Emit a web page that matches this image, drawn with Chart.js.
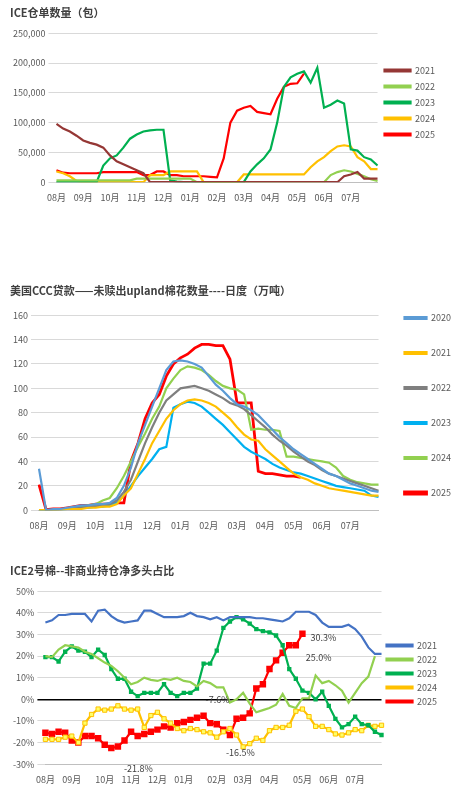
<!DOCTYPE html>
<html>
<head>
<meta charset="utf-8">
<script src="https://cdn.jsdelivr.net/npm/chart.js@4.4.0/dist/chart.umd.min.js"></script>
<style>
  body { margin: 0; background: #fff; width: 475px; height: 787px; position: relative; overflow: hidden; }
  .box { position: absolute; left: 0; width: 475px; }
</style>
</head>
<body>
<div class="box" style="top:0;height:205px"><canvas id="c1"></canvas></div>
<div class="box" style="top:278px;height:255px"><canvas id="c2"></canvas></div>
<div class="box" style="top:560px;height:227px"><canvas id="c3"></canvas></div>
<script>
// 月份标签
const months = ['08月', '09月', '10月', '11月', '12月', '01月', '02月', '03月', '04月', '05月', '06月', '07月'];

// 图1 ICE仓单数量（包），每月4个点
const ice2021 = [98000,90000,85000,78000,70000,66000,63000,58000,45000,35000,30000,25000,20000,15000,0,0,0,0,0,0,0,0,0,0,0,0,0,0,0,0,0,0,0,0,0,0,0,0,0,0,0,0,0,10000,13000,17000,6000,6000,6000];
const ice2022 = [3000,3000,3000,3000,3000,3000,3000,3000,3000,3000,3000,3000,6000,6000,6000,6000,6000,6000,6000,6000,6000,0,0,0,0,0,0,0,0,0,0,0,0,0,0,0,0,0,0,0,0,12000,17000,20000,18000,14000,10000,5000,2000];
const ice2023 = [0,0,0,0,0,0,0,28000,40000,45000,58000,73000,80000,85000,87000,88000,88000,3000,1000,0,0,0,0,0,0,0,0,0,0,18000,30000,40000,55000,100000,160000,176000,182000,186000,167000,192000,125000,130000,137000,132000,55000,53000,42000,38000,28000];
const ice2024 = [18000,15000,10000,2000,0,0,0,0,0,0,0,0,0,0,12000,12000,12000,18000,18000,18000,18000,18000,0,0,0,0,0,0,13000,13000,13000,13000,13000,13000,13000,13000,13000,13000,25000,35000,42000,52000,60000,62000,60000,42000,35000,22000,22000];
const ice2025 = [20000,16000,15000,15000,15000,15000,15000,17000,17000,17000,17000,17000,17000,12000,12000,18000,18000,12000,12000,10000,10000,10000,10000,9000,8000,40000,100000,120000,125000,128000,118000,116000,114000,140000,160000,165000,166000,182000];

// 图2 美国CCC贷款未赎出量（万吨）
const ccc2020 = [34,0,1,1,2,3,4,4,5,5,6,10,20,35,55,70,85,100,115,122,123,122,120,117,110,103,98,92,87,85,82,78,72,66,60,55,50,46,42,38,34,30,28,25,22,20,18,16,15];
const ccc2021 = [0,0,0,0,1,1,1,2,2,3,3,5,12,18,30,42,55,65,75,82,87,90,91,90,88,85,80,75,68,62,58,57,50,45,40,35,30,27,25,22,20,18,17,16,15,14,13,12,12];
const ccc2022 = [0,0,0,1,1,2,2,3,3,4,5,8,15,25,40,55,68,80,90,95,100,101,102,100,98,95,92,88,86,83,78,73,68,62,57,53,48,44,40,37,33,30,28,26,24,22,20,18,16];
const ccc2023 = [0,0,0,0,1,1,2,2,3,3,4,6,12,20,28,35,42,50,52,84,87,89,88,85,80,75,70,64,58,52,48,45,42,38,35,33,31,30,28,26,24,22,20,19,18,17,16,12,11];
const ccc2024 = [0,0,0,1,1,2,3,4,5,8,10,18,28,40,52,63,75,85,100,108,115,118,117,115,111,106,102,100,99,95,66,67,66,66,65,44,44,43,42,41,40,39,35,28,25,23,22,21,21];
const ccc2025 = [21,0.5,1,1,2,3,4,4,5,5,5,6,6,40,55,75,88,95,110,120,125,128,133,136,136,135,135,124,88,88,88,32,30,30,29,28,28,27];

// 图3 ICE2号棉非商业持仓净多头占比（%），每周一个点
const pos2021 = [35.5,36.5,39,39,39.5,39.5,39.5,36,41,41.5,38.5,36.5,35.5,36,36.5,41,41,39.5,38,38,38,38.5,40,38.5,38,37,38,36.5,38,38,38,38,37.5,37.5,37,36.5,36,37.5,40.5,40.5,40.5,39,35.5,33.5,33.5,33.5,34.5,32.5,29,24,21,21];
const pos2022 = [20,19.5,23,25,24.5,24,22,21,19,17,15.5,13,10,7,8,10,9,8.5,9.5,9,10,8.5,8,6,8.5,7.5,5.5,5.5,-1.5,0,3,-2,-6,-5,-4,-2.5,2.5,-3,-4,0.5,0.5,11,7.5,8.5,6.5,4,-1.5,3,7.5,10.5,20];
const pos2023 = [19.5,19.5,17.5,22,24.5,22.5,22,19.5,23,20.5,14,9.5,9.5,3.5,1.5,3,3,3,7,3,1.5,3,3,5,16.5,16.5,22.5,33,36,38,37,35,32.5,31.5,31,29.5,25,14,9.5,4,3,0,3.5,-3,-9,-13,-11.5,-8,-11.5,-12,-15,-16.5];
const pos2024 = [-18.5,-18.5,-18.5,-17.5,-17,-20,-11,-7,-4.5,-5,-4.5,-3,-4.5,-5,-4.5,-13,-7.5,-6,-9,-11,-13.5,-14.5,-13.5,-14,-15,-15.5,-17.5,-15,-13.5,-16.5,-22,-20.5,-18,-19,-14.5,-13,-13,-12,-5.5,-4.5,-8,-12.5,-12.5,-14,-16,-16.5,-15.5,-14,-14.5,-12,-12.5,-12];
const pos2025 = [-15.5,-16,-15,-15.5,-19,-20,-17,-17,-18,-21,-22.5,-21.8,-19,-15,-17,-16,-15,-14,-12.5,-13,-11,-10.5,-9.5,-8.5,-7.6,-11,-11.5,-14,-16.5,-9,-8.5,-6.5,5,7,14,18,21.5,25,25,30.3];
// 数据标注 [序号, 文本, dx, dy]
const posNotes = [[39, '30.3%', 8, 4], [38, '25.0%', 10, 12], [24, '-7.6%', 2, -16], [28, '-16.5%', -4, 18], [11, '-21.8%', 6, 22]];

const tickColor = '#595959';
const gridColor = '#d9d9d9';
Chart.defaults.font.family = "'Noto Sans CJK SC', 'Noto Sans', sans-serif";
Chart.defaults.font.size = 9;
Chart.defaults.color = tickColor;
Chart.defaults.animation = false;

function monthLabels(perMonth, total) {
    return Array.from({length: total}, (_, i) => i % perMonth === 0 ? (months[i / perMonth] || '') : '');
}

function lineSet(label, data, color, extra) {
    return Object.assign({
        label: label, data: data, borderColor: color, backgroundColor: color,
        borderWidth: 2.2, pointRadius: 0, tension: 0, spanGaps: false
    }, extra || {});
}

function baseOptions(title, legendPad, rightPad, yOpts) {
    return {
        responsive: true,
        maintainAspectRatio: false,
        layout: { padding: { left: 10, right: rightPad, top: 0, bottom: 0 } },
        plugins: {
            title: { display: true, text: title, align: 'start', color: '#404040',
                     font: { size: 11, weight: 'bold' }, padding: { top: 6, bottom: 14 } },
            legend: { position: 'right', labels: { boxWidth: 26, boxHeight: 2, padding: legendPad, color: tickColor, font: { size: 9 } } },
            tooltip: { enabled: false }
        },
        scales: {
            x: { grid: { display: false }, border: { color: '#bfbfbf' },
                 ticks: { autoSkip: false, maxRotation: 0, padding: 2 } },
            y: yOpts
        }
    };
}

// 图1
const n1 = 49;
new Chart(document.getElementById('c1'), {
    type: 'line',
    data: {
        labels: monthLabels(4, n1),
        datasets: [
            lineSet('2021', ice2021, '#953735'),
            lineSet('2022', ice2022, '#92D050'),
            lineSet('2023', ice2023, '#00B050'),
            lineSet('2024', ice2024, '#FFC000'),
            lineSet('2025', ice2025, '#FF0000')
        ]
    },
    options: baseOptions('ICE仓单数量（包）', 7, 30, {
        min: 0, max: 250000, grid: { color: gridColor }, border: { display: false },
        ticks: { stepSize: 50000 }
    })
});

// 图2
const opts2 = baseOptions('美国CCC贷款——未赎出upland棉花数量----日度（万吨）', 26, 14, {
    min: 0, max: 160, grid: { color: gridColor }, border: { display: false },
    ticks: { stepSize: 20 }
});
opts2.plugins.title.padding = { top: 6, bottom: 18 };
opts2.plugins.legend.labels.boxWidth = 22;
new Chart(document.getElementById('c2'), {
    type: 'line',
    data: {
        labels: monthLabels(4, n1),
        datasets: [
            lineSet('2020', ccc2020, '#5B9BD5'),
            lineSet('2021', ccc2021, '#FFC000'),
            lineSet('2022', ccc2022, '#7F7F7F'),
            lineSet('2023', ccc2023, '#00B0F0'),
            lineSet('2024', ccc2024, '#92D050'),
            lineSet('2025', ccc2025, '#FF0000', { borderWidth: 2.8 })
        ]
    },
    options: opts2
});

// 图3 数据标注插件
const notePlugin = {
    id: 'notes',
    afterDatasetsDraw(chart) {
        const ctx = chart.ctx;
        const xs = chart.scales.x, ys = chart.scales.y;
        ctx.save();
        ctx.font = "9px 'Noto Sans CJK SC', sans-serif";
        ctx.fillStyle = '#404040';
        ctx.textBaseline = 'middle';
        posNotes.forEach(([i, text, dx, dy]) => {
            ctx.fillText(text, xs.getPixelForValue(i) + dx, ys.getPixelForValue(pos2025[i]) + dy);
        });
        ctx.restore();
    }
};

const n3 = 52;
const labels3 = Array(n3).fill('');
months.forEach((m, k) => { labels3[Math.round(k * 4.29)] = m; });
const opts3 = baseOptions('ICE2号棉--非商业持仓净多头占比', 5, 28, {
    min: -30, max: 50, border: { display: false },
    grid: { color: c => c.tick.value === 0 ? '#000' : gridColor, lineWidth: c => c.tick.value === 0 ? 1.5 : 1 },
    ticks: { stepSize: 10, callback: v => v + '%' }
});
opts3.plugins.title.padding = { top: 4, bottom: 14 };
new Chart(document.getElementById('c3'), {
    type: 'line',
    data: {
        labels: labels3,
        datasets: [
            lineSet('2021', pos2021, '#4472C4'),
            lineSet('2022', pos2022, '#92D050'),
            lineSet('2023', pos2023, '#00B050', { pointRadius: 1.5, pointStyle: 'rect' }),
            lineSet('2024', pos2024, '#FFC000', { pointRadius: 3, pointStyle: 'rect', backgroundColor: '#FFFF66', pointBorderWidth: 1 }),
            lineSet('2025', pos2025, '#FF0000', { pointRadius: 3, pointStyle: 'rect' })
        ]
    },
    options: opts3,
    plugins: [notePlugin]
});
</script>
</body>
</html>
